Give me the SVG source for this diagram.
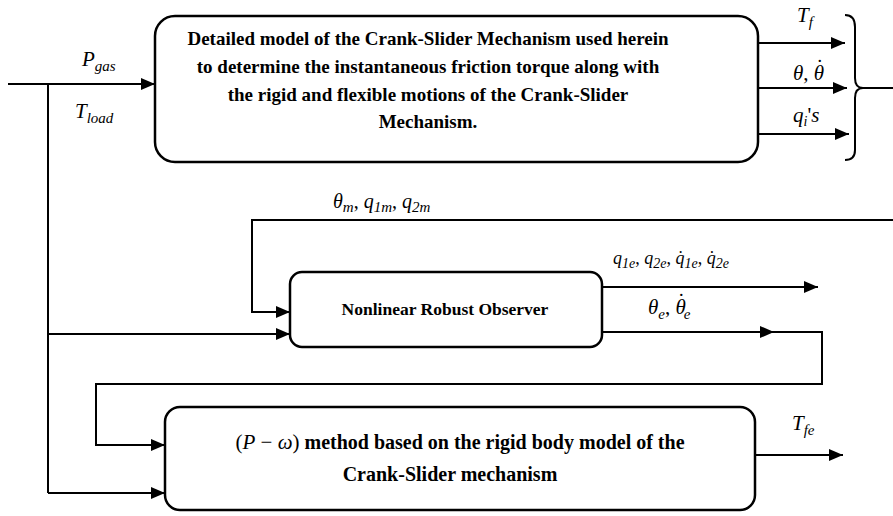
<svg xmlns="http://www.w3.org/2000/svg" width="893" height="516" viewBox="0 0 893 516">
<defs>
<marker id="ah" markerUnits="userSpaceOnUse" markerWidth="14" markerHeight="12" refX="14" refY="6" orient="auto">
<path d="M0,0 L14,6 L0,12 z" fill="#000"/>
</marker>
<style>
.box{fill:#fff;stroke:#000;stroke-width:2.5}
.ln{fill:none;stroke:#000;stroke-width:2}
.arr{fill:none;stroke:#000;stroke-width:2;marker-end:url(#ah)}
.bt{font-family:"Liberation Serif","Times New Roman",serif;font-weight:bold;fill:#000;text-anchor:middle}
.m{font-family:"Liberation Serif","Times New Roman",serif;font-style:italic;fill:#000}
.up{font-style:normal}
</style>
</defs>
<rect width="893" height="516" fill="#fff"/>
<g id="connectors">
<path class="arr" d="M8,84 H155"/>
<path class="ln" d="M48,84 V493"/>
<path class="arr" d="M48,334 H290"/>
<path class="arr" d="M48,493 H165"/>
<path class="arr" d="M758,43 H845"/>
<path class="arr" d="M758,88 H847"/>
<path class="arr" d="M758,134 H849"/>
<path class="ln" d="M845,15 Q855,15 855,27 V78 Q855,88 863,88 Q855,88 855,98 V150 Q855,160 845,160"/>
<path class="ln" d="M863,88 H893"/>
<path class="arr" d="M893,220 H252 V312 H290"/>
<path class="arr" d="M602,287 H818"/>
<path class="arr" d="M602,332 H774"/>
<path class="arr" d="M772,332 H822 V384 H96 V445 H165"/>
<path class="arr" d="M755,455 H843"/>
</g>
<g id="detailed-model">
<rect class="box" x="155" y="16" width="603" height="146" rx="20"/>
<text class="bt" font-size="19"><tspan x="428" y="45">Detailed model of the Crank-Slider Mechanism used herein</tspan><tspan x="428" y="73">to determine the instantaneous friction torque along with</tspan><tspan x="428" y="101">the rigid and flexible motions of the Crank-Slider</tspan><tspan x="428" y="128">Mechanism.</tspan></text>
</g>
<g id="observer">
<rect class="box" x="290" y="272" width="312" height="75" rx="12"/>
<text class="bt" font-size="17.5" x="445" y="315">Nonlinear Robust Observer</text>
</g>
<g id="p-omega">
<rect class="box" x="165" y="407" width="590" height="103" rx="15"/>
<text class="bt" font-size="20" x="460" y="449"><tspan font-weight="normal" font-size="21">(</tspan><tspan class="m" font-weight="normal" font-size="21">P</tspan><tspan font-weight="normal" font-size="21"> − </tspan><tspan class="m" font-weight="normal" font-size="21">ω</tspan><tspan font-weight="normal" font-size="21">)</tspan> method based on the rigid body model of the</text>
<text class="bt" font-size="20" x="450" y="481">Crank-Slider mechanism</text>
</g>
<g id="labels">
<text class="m" font-size="21" x="82" y="66">P<tspan font-size="15" dy="5">gas</tspan></text>
<text class="m" font-size="21" x="75" y="118">T<tspan font-size="15" dy="5">load</tspan></text>
<text class="m" font-size="21" x="797" y="22">T<tspan font-size="15" dy="5">f</tspan></text>
<text class="m" font-size="21" x="793" y="80">θ<tspan class="up">, </tspan>θ<tspan class="up" dx="-8" dy="-6">˙</tspan></text>
<text class="m" font-size="21" x="793" y="122">q<tspan font-size="14" dy="4">i</tspan><tspan class="up" dy="-4">'</tspan>s</text>
<text class="m" font-size="20" x="333" y="208">θ<tspan font-size="15" dy="4">m</tspan><tspan class="up" dy="-4">, </tspan>q<tspan font-size="15" dy="4">1m</tspan><tspan class="up" dy="-4">, </tspan>q<tspan font-size="15" dy="4">2m</tspan></text>
<text class="m" font-size="18" x="613" y="264">q<tspan font-size="14" dy="4">1e</tspan><tspan class="up" dy="-4">, </tspan>q<tspan font-size="14" dy="4">2e</tspan><tspan class="up" dy="-4">, </tspan>q̇<tspan font-size="14" dy="4">1e</tspan><tspan class="up" dy="-4">, </tspan>q̇<tspan font-size="14" dy="4">2e</tspan></text>
<text class="m" font-size="21" x="648" y="314">θ<tspan font-size="15" dy="5">e</tspan><tspan class="up" dy="-5">, </tspan>θ<tspan class="up" dx="-8" dy="-6">˙</tspan><tspan font-size="15" dx="-1" dy="11">e</tspan></text>
<text class="m" font-size="21" x="792" y="430">T<tspan font-size="15" dy="5">fe</tspan></text>
</g>
</svg>
